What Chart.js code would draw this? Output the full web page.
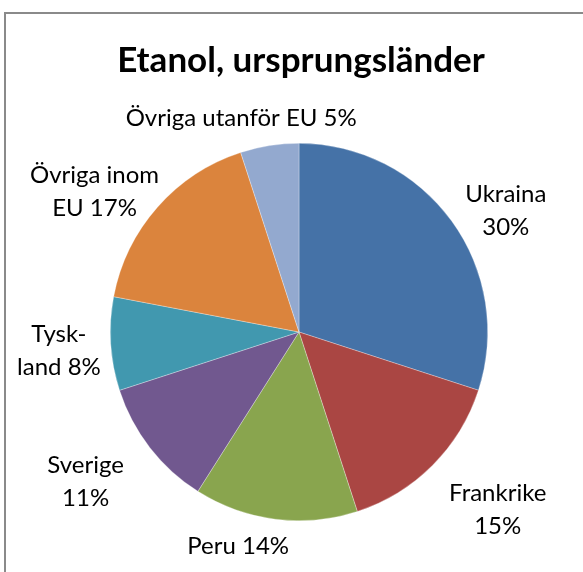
<!DOCTYPE html>
<html>
<head>
<meta charset="utf-8">
<title>Etanol, ursprungsländer</title>
<script src="https://cdn.jsdelivr.net/npm/chart.js@4"></script>
<style>
    body { margin: 0; background: #fff; }
    #wrap { position: relative; width: 583px; height: 572px; }
</style>
</head>
<body>
<div id="wrap"><canvas id="pie" width="583" height="572"></canvas></div>
<script>
// Chart data
const countries = ['Ukraina', 'Frankrike', 'Peru', 'Sverige', 'Tyskland', 'Övriga inom EU', 'Övriga utanför EU'];
const shares = [30, 15, 14, 11, 8, 17, 5];
// label text as it is wrapped in the picture
const labelLines = [
    ['Ukraina', '30%'],
    ['Frankrike', '15%'],
    ['Peru 14%'],
    ['Sverige', '11%'],
    ['Tysk-', 'land 8%'],
    ['Övriga inom', 'EU 17%'],
    ['Övriga utanför EU 5%']
];
const sliceColors = ['#4572A7', '#AA4643', '#89A54E', '#71588F', '#4198AF', '#DB843D', '#93A9CF'];

const TITLE = 'Etanol, ursprungsländer';
const FONT = 'Lato, "Open Sans", sans-serif';

// small hand tweaks so the labels sit where Excel put them
const labelNudge = [[10, 17], [21, 11], [-29, -3], [-23, 5], [4, 4], [-4, 16], [-8, 3]];

// frame, title and outside-end labels
const decorPlugin = {
    id: 'decor',
    beforeDraw(chart) {
        const ctx = chart.ctx;
        ctx.save();
        ctx.strokeStyle = '#8a8a8a';
        ctx.lineWidth = 2;
        ctx.beginPath();
        ctx.moveTo(583, 13);
        ctx.lineTo(5, 13);
        ctx.lineTo(5, 572);
        ctx.stroke();
        ctx.restore();
    },
    afterDraw(chart) {
        const ctx = chart.ctx;
        ctx.save();
        ctx.fillStyle = '#000';
        ctx.textAlign = 'center';
        ctx.textBaseline = 'middle';
        ctx.font = 'bold 35px ' + FONT;
        ctx.fillText(TITLE, 301, 61);

        ctx.font = '24px ' + FONT;
        const lineH = 33;
        const arcs = chart.getDatasetMeta(0).data;
        arcs.forEach(function(arc, i) {
            const p = arc.getProps(['x', 'y', 'startAngle', 'endAngle', 'outerRadius'], true);
            const mid = (p.startAngle + p.endAngle) / 2;
            const dx = Math.cos(mid);
            const dy = Math.sin(mid);
            const lines = labelLines[i];
            let w = 0;
            lines.forEach(function(l) { w = Math.max(w, ctx.measureText(l).width); });
            const h = lines.length * lineH;
            const r = p.outerRadius + 14;
            const cx = p.x + dx * r + dx * w / 2 + labelNudge[i][0];
            const cy = p.y + dy * r + dy * h / 2 + labelNudge[i][1];
            lines.forEach(function(l, k) {
                ctx.fillText(l, cx, cy - h / 2 + lineH / 2 + k * lineH);
            });
        });
        ctx.restore();
    }
};

new Chart(document.getElementById('pie'), {
    type: 'pie',
    data: {
        labels: countries,
        datasets: [{
            data: shares,
            backgroundColor: sliceColors,
            borderColor: 'rgba(255,255,255,0.5)',
            borderWidth: 0.6
        }]
    },
    options: {
        responsive: false,
        animation: false,
        layout: {
            padding: { left: 110, right: 95, top: 143, bottom: 51 }
        },
        plugins: {
            legend: { display: false },
            title: { display: false },
            tooltip: { enabled: false }
        }
    },
    plugins: [decorPlugin]
});
</script>
</body>
</html>
